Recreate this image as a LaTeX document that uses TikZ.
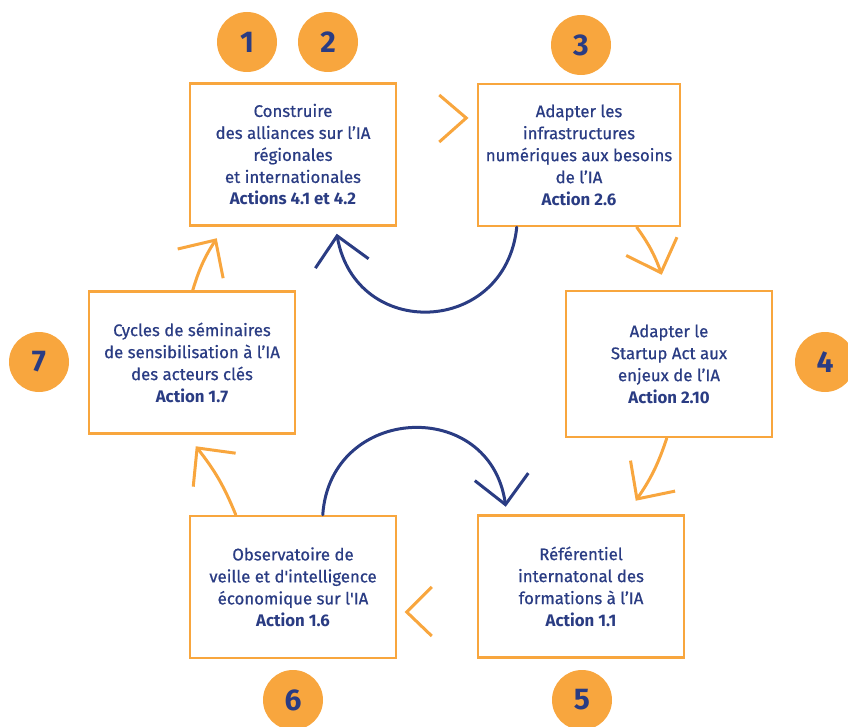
\documentclass[tikz,border=0pt]{standalone}
\usepackage{fontspec}
\setmainfont{Fira Sans}[UprightFeatures={FakeBold=0.7}]
\usetikzlibrary{arrows.meta}
\definecolor{ochre}{HTML}{F8A63E}
\definecolor{navy}{HTML}{2A3C83}
\tikzset{
  stage/.style={rectangle, draw=ochre, line width=2.5pt, text=navy, align=center,
    minimum width=206pt, minimum height=142pt, inner sep=0pt,
    font=\fontsize{16.8}{22}\selectfont},
  badge/.style={circle, fill=ochre, text=navy, minimum size=60pt, inner sep=0pt,
    font=\fontsize{30}{30}\selectfont\bfseries},
  flow/.style={ochre, line width=3pt, line cap=round,
    -{Straight Barb[length=28pt,width=54pt]}},
  feedback/.style={navy, line width=3pt, line cap=round,
    -{Straight Barb[length=28pt,width=54pt]}},
  chevron/.style={ochre, line width=3pt}
}

\begin{document}
\begin{tikzpicture}
  [x=1pt, y=1pt]
    \useasboundingbox (0,0) rectangle (848,-727);
    % the seven steps
    \node[stage] (b1) at (293,-154.5) {Construire\\des alliances sur l’IA\\régionales\\et internationales\\\textbf{Actions 4.1 et 4.2}};
    \node[stage, minimum width=202pt] (b3) at (579,-155) {Adapter les\\infrastructures\\numériques aux besoins\\de l’IA\\\textbf{Action 2.6}};
    \node[stage, minimum height=146pt] (b4) at (669,-364) {Adapter le\\Startup Act aux\\enjeux de l’IA\\\textbf{Action 2.10}};
    \node[stage] (b5) at (581,-586.5) {Référentiel\\internatonal des\\formations à l’IA\\\textbf{Action 1.1}};
    \node[stage] (b6) at (293,-587) {Observatoire de\\veille et d\textquotesingle intelligence\\économique sur l\textquotesingle IA\\\textbf{Action 1.6}};
    \node[stage] (b7) at (192,-362.5) {Cycles de séminaires\\de sensibilisation à l’IA\\des acteurs clés\\\textbf{Action 1.7}};
    \foreach \n/\x/\y in {1/247/42,2/328/42,3/581/45,4/825/362,
                  5/582/700,6/293/700,7/39/362}{
      \node[badge] (c\n) at (\x,-\y) {\n};}
    % arrows round the cycle
    \draw[flow] ([xshift=160pt]b3.south west) to[bend left=8]
      ([xshift=97pt,yshift=15pt]b4.north west);
    \draw[flow] ([xshift=102pt]b4.south west) to[bend left=8]
      ([xshift=159pt,yshift=13.5pt]b5.north west);
    \draw[flow] ([xshift=47pt]b6.north west) to[bend right=8]
      ([xshift=108pt,yshift=-11.5pt]b7.south west);
    \draw[flow] ([xshift=105pt]b7.north west) to[bend left=8]
      ([xshift=28pt,yshift=-11.5pt]b1.south west);
    \coordinate (n13) at ([xshift=69pt,yshift=36.5pt]b1.east);
    \coordinate (n65) at ([xshift=-70pt,yshift=-25.5pt]b5.west);
    \draw[chevron] (n13) ++(-27,23) -- (n13) -- ++(-27,-24);
    \draw[chevron] (n65) ++(25,25) -- (n65) -- ++(25,-24);
    % the two loops
    \draw[feedback] ([xshift=40pt]b3.south west) to[out=-96,in=-80,looseness=1.55]
      ([xshift=148pt,yshift=-7pt]b1.south west);
    \draw[feedback] ([xshift=134pt]b6.north west) to[out=86,in=98,looseness=1.55]
      ([xshift=29pt,yshift=7.5pt]b5.north west);
  \end{tikzpicture}
\end{document}
